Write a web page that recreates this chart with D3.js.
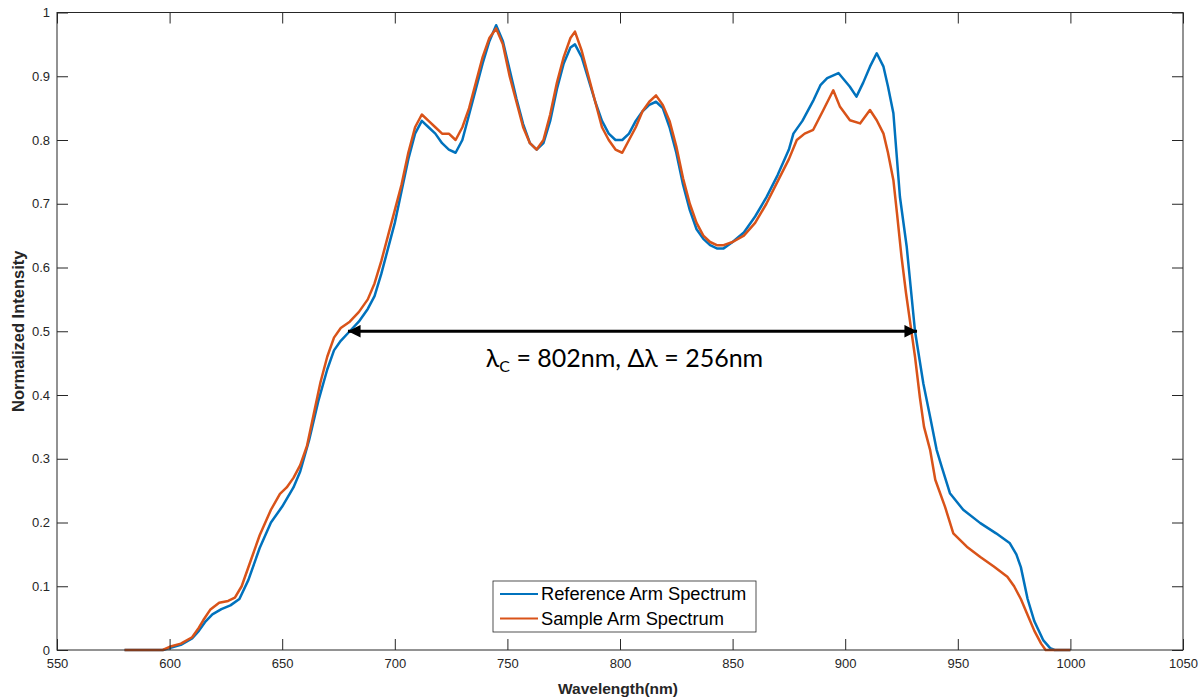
<!DOCTYPE html>
<html>
<head>
<meta charset="utf-8">
<script src="https://cdn.jsdelivr.net/npm/d3@7"></script>
<style>
  body { margin: 0; background: #fff; }
  svg { display: block; }
</style>
</head>
<body>
<script>
// Reference arm spectrum
const refWavelength = [580, 597, 600, 605, 610, 613, 616, 619, 623, 627, 631, 635, 640, 645, 650, 655, 658, 662, 666, 670, 673, 676, 680, 684, 688, 691, 694, 697, 700, 703, 706, 709, 712, 715, 718, 721, 724, 727, 730, 733, 736, 739, 742, 745, 748, 751, 754, 757, 760, 763, 766, 769, 772, 775, 778, 780, 783, 786, 789, 792, 795, 798, 801, 804, 807, 810, 813, 816, 819, 822, 825, 828, 831, 834, 837, 840, 843, 846, 850, 855, 860, 865, 870, 875, 877, 881, 886, 889, 892, 897, 902, 905, 908, 911, 914, 917, 919, 921.4, 924.3, 927.3, 931, 934.7, 937.7, 940.6, 942.8, 946.5, 952.4, 960, 967, 973, 976, 978, 981, 984, 988, 991, 993, 1000];
const refIntensity  = [0, 0, 0.003, 0.008, 0.018, 0.03, 0.045, 0.056, 0.064, 0.07, 0.08, 0.11, 0.16, 0.2, 0.225, 0.255, 0.28, 0.33, 0.39, 0.44, 0.47, 0.485, 0.5, 0.515, 0.535, 0.555, 0.59, 0.63, 0.67, 0.72, 0.77, 0.81, 0.83, 0.82, 0.81, 0.795, 0.785, 0.78, 0.8, 0.84, 0.88, 0.92, 0.955, 0.98, 0.955, 0.91, 0.865, 0.825, 0.795, 0.785, 0.795, 0.83, 0.88, 0.92, 0.945, 0.95, 0.93, 0.895, 0.86, 0.83, 0.81, 0.8, 0.8, 0.81, 0.83, 0.845, 0.855, 0.86, 0.85, 0.82, 0.78, 0.73, 0.69, 0.66, 0.645, 0.635, 0.63, 0.63, 0.64, 0.655, 0.68, 0.71, 0.745, 0.785, 0.81, 0.83, 0.863, 0.886, 0.897, 0.905, 0.884, 0.868, 0.89, 0.915, 0.936, 0.915, 0.884, 0.842, 0.711, 0.633, 0.5, 0.418, 0.366, 0.314, 0.288, 0.246, 0.22, 0.199, 0.183, 0.168, 0.15, 0.13, 0.08, 0.045, 0.015, 0.003, 0, 0];

// Sample arm spectrum
const sampleWavelength = [580, 597, 600, 605, 610, 613, 615, 618, 622, 626, 629, 632, 636, 640, 645, 649, 652, 655, 658, 661, 664, 667, 670, 673, 676, 680, 684, 688, 691, 694, 697, 700, 703, 706, 709, 712, 715, 718, 721, 724, 727, 730, 733, 736, 739, 742, 745, 748, 751, 754, 757, 760, 763, 766, 769, 772, 775, 778, 780, 783, 786, 789, 792, 795, 798, 801, 804, 807, 810, 813, 816, 819, 822, 825, 828, 831, 834, 837, 840, 843, 846, 850, 855, 860, 865, 870, 875, 878.5, 882, 885.8, 890.3, 894.7, 897.7, 902.1, 906.6, 911, 914, 917, 919, 921.4, 923, 925, 927, 929, 931, 933.2, 935, 937.7, 940, 944.3, 948, 954, 960, 966, 972, 975, 978, 981, 984, 987, 989, 1000];
const sampleIntensity  = [0, 0, 0.005, 0.01, 0.02, 0.035, 0.047, 0.063, 0.074, 0.077, 0.082, 0.1, 0.14, 0.18, 0.22, 0.245, 0.255, 0.27, 0.29, 0.32, 0.37, 0.42, 0.46, 0.49, 0.505, 0.515, 0.53, 0.55, 0.575, 0.61, 0.65, 0.69, 0.73, 0.78, 0.82, 0.84, 0.83, 0.82, 0.81, 0.81, 0.8, 0.82, 0.85, 0.89, 0.93, 0.96, 0.975, 0.95, 0.9, 0.86, 0.82, 0.795, 0.785, 0.8, 0.84, 0.89, 0.93, 0.96, 0.97, 0.94, 0.9, 0.86, 0.82, 0.8, 0.785, 0.78, 0.8, 0.82, 0.845, 0.86, 0.87, 0.855, 0.83, 0.79, 0.74, 0.7, 0.67, 0.65, 0.64, 0.635, 0.635, 0.64, 0.65, 0.67, 0.7, 0.735, 0.77, 0.8, 0.81, 0.816, 0.847, 0.878, 0.852, 0.831, 0.826, 0.847, 0.831, 0.81, 0.78, 0.737, 0.685, 0.617, 0.56, 0.51, 0.46, 0.395, 0.35, 0.314, 0.267, 0.225, 0.183, 0.162, 0.146, 0.131, 0.115, 0.1, 0.08, 0.055, 0.03, 0.01, 0, 0];

const xTicks = [550, 600, 650, 700, 750, 800, 850, 900, 950, 1000, 1050];
const yTicks = [0, 0.1, 0.2, 0.3, 0.4, 0.5, 0.6, 0.7, 0.8, 0.9, 1];
const seriesNames = ["Reference Arm Spectrum", "Sample Arm Spectrum"];
const seriesColors = ["#0072BD", "#D95319"];
const fwhmRange = [679.2, 931.9];

const width = 1204, height = 698;
const margin = {top: 12.5, right: 21, bottom: 48, left: 57};
const iw = width - margin.left - margin.right;
const ih = height - margin.top - margin.bottom;

const x = d3.scaleLinear().domain([550, 1050]).range([0, iw]);
const y = d3.scaleLinear().domain([0, 1]).range([ih, 0]);

const svg = d3.select("body").append("svg")
    .attr("width", width)
    .attr("height", height)
    .attr("font-family", "Liberation Sans, Arial, sans-serif");

const g = svg.append("g")
    .attr("transform", `translate(${margin.left},${margin.top})`);

const line = d3.line()
    .x(d => x(d[0]))
    .y(d => y(d[1]));

const series = [
  d3.zip(refWavelength, refIntensity),
  d3.zip(sampleWavelength, sampleIntensity)
];

g.append("g")
    .attr("fill", "none")
    .attr("stroke-width", 2.5)
    .attr("stroke-linejoin", "round")
  .selectAll("path")
  .data(series)
  .join("path")
    .attr("stroke", (d, i) => seriesColors[i])
    .attr("d", line);

// axes, matlab style: box with inward ticks on all sides
const tickLen = 11;
const axisColor = "#262626";

function styleAxis(sel) {
  sel.select(".domain").remove();
  sel.selectAll(".tick line").attr("stroke", axisColor).attr("stroke-width", 1);
  sel.selectAll(".tick text").attr("fill", axisColor).attr("font-size", 13);
}

g.append("g")
    .attr("transform", `translate(0,${ih})`)
    .call(d3.axisBottom(x).tickValues(xTicks).tickSizeInner(-tickLen).tickSizeOuter(0).tickFormat(d3.format("d")))
    .call(styleAxis)
    .call(a => a.selectAll(".tick text").attr("dy", "0.71em").attr("y", 9));

g.append("g")
    .call(d3.axisTop(x).tickValues(xTicks).tickSizeInner(-tickLen).tickSizeOuter(0).tickFormat(""))
    .call(styleAxis);

g.append("g")
    .call(d3.axisLeft(y).tickValues(yTicks).tickSizeInner(-tickLen).tickSizeOuter(0).tickFormat(d => d === 0 || d === 1 ? d3.format("d")(d) : d3.format(".1f")(d)))
    .call(styleAxis)
    .call(a => a.selectAll(".tick text").attr("x", -7));

g.append("g")
    .attr("transform", `translate(${iw},0)`)
    .call(d3.axisRight(y).tickValues(yTicks).tickSizeInner(-tickLen).tickSizeOuter(0).tickFormat(""))
    .call(styleAxis);

g.append("rect")
    .attr("width", iw)
    .attr("height", ih)
    .attr("fill", "none")
    .attr("stroke", axisColor)
    .attr("stroke-width", 1);

// axis labels
svg.append("text")
    .attr("x", margin.left + x(800) - 2)
    .attr("y", 694)
    .attr("text-anchor", "middle")
    .attr("font-weight", "bold")
    .attr("font-size", 15.5)
    .attr("fill", axisColor)
    .text("Wavelength(nm)");

svg.append("text")
    .attr("transform", `translate(24,${margin.top + y(0.5)}) rotate(-90)`)
    .attr("text-anchor", "middle")
    .attr("font-weight", "bold")
    .attr("font-size", 16.5)
    .attr("fill", axisColor)
    .text("Normalized Intensity");

// FWHM arrow
const defs = svg.append("defs");
defs.append("marker")
    .attr("id", "head")
    .attr("viewBox", "0 0 10 10")
    .attr("refX", 10).attr("refY", 5)
    .attr("markerWidth", 4.5).attr("markerHeight", 4.5)
    .attr("markerUnits", "strokeWidth")
    .attr("orient", "auto-start-reverse")
  .append("path")
    .attr("d", "M0,0L10,5L0,10z")
    .attr("fill", "#000");

g.append("line")
    .attr("x1", x(fwhmRange[0])).attr("x2", x(fwhmRange[1]))
    .attr("y1", y(0.5)).attr("y2", y(0.5))
    .attr("stroke", "#000")
    .attr("stroke-width", 2.8)
    .attr("marker-start", "url(#head)")
    .attr("marker-end", "url(#head)");

const ann = g.append("text")
    .attr("x", x(802))
    .attr("y", y(0.5) + 36)
    .attr("text-anchor", "middle")
    .attr("font-family", "Lato, Carlito, sans-serif")
    .attr("font-size", 25)
    .attr("fill", "#000");
ann.append("tspan").text("λ");
ann.append("tspan").attr("font-size", 16).attr("dy", 5).text("C");
ann.append("tspan").attr("dy", -5).text(" = 802nm, Δλ = 256nm");

// legend
const legend = svg.append("g").attr("transform", "translate(493,581)");
legend.append("rect")
    .attr("width", 263)
    .attr("height", 51)
    .attr("fill", "#fff")
    .attr("stroke", axisColor)
    .attr("stroke-width", 0.8);

const item = legend.selectAll("g.item")
  .data(seriesNames)
  .join("g")
    .attr("class", "item")
    .attr("transform", (d, i) => `translate(0,${13 + i * 24.5})`);

item.append("line")
    .attr("x1", 7).attr("x2", 45)
    .attr("stroke", (d, i) => seriesColors[i])
    .attr("stroke-width", 2.2);

item.append("text")
    .attr("x", 48)
    .attr("dy", "0.35em")
    .attr("font-size", 18.3)
    .attr("fill", "#000")
    .text(d => d);
</script>
</body>
</html>
